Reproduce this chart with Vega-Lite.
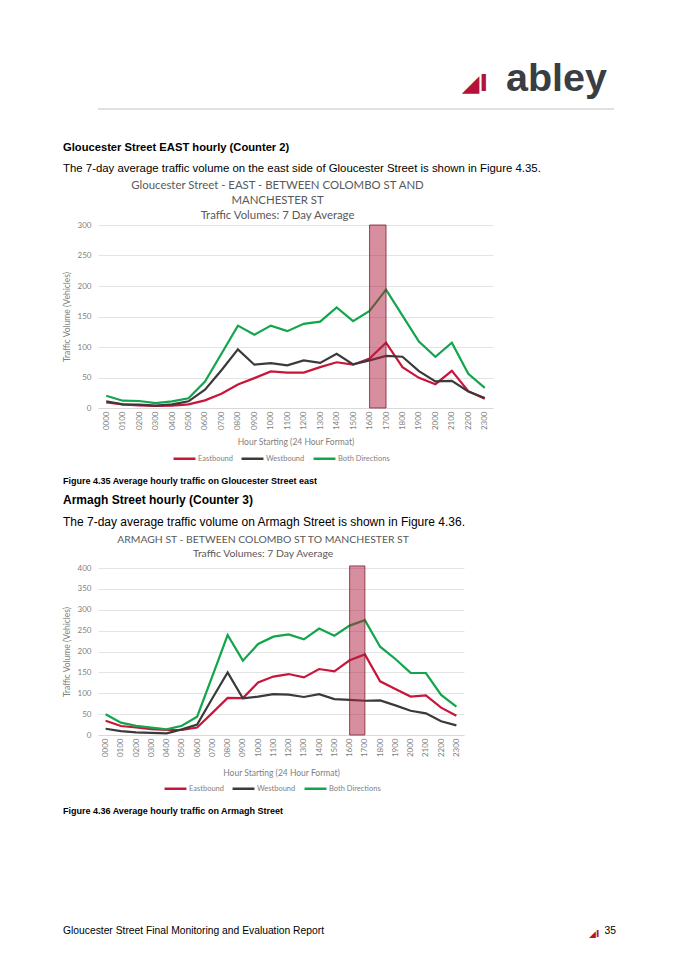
{
  "$schema": "https://vega.github.io/schema/vega-lite/v6.json",
  "background": "white",
  "padding": {"left": 62, "top": 58, "right": 0, "bottom": 0},
  "spacing": 0,
  "resolve": {"scale": {"color": "independent"}, "legend": {"color": "independent"}},
  "config": {
    "view": {"stroke": null},
    "font": "Liberation Sans",
    "title": {"anchor": "start", "frame": "group", "offset": 0, "color": "#000000", "font": "Liberation Sans", "fontWeight": "bold", "subtitleFont": "Liberation Sans", "subtitleColor": "#000000", "subtitleFontWeight": "normal"}
  },
  "datasets": {
    "glo": [
      {"h":0,"d":"Eastbound","v":9},{"h":1,"d":"Eastbound","v":6},{"h":2,"d":"Eastbound","v":4.4},{"h":3,"d":"Eastbound","v":3.3},{"h":4,"d":"Eastbound","v":4},{"h":5,"d":"Eastbound","v":6},{"h":6,"d":"Eastbound","v":12.5},{"h":7,"d":"Eastbound","v":23.5},{"h":8,"d":"Eastbound","v":38.5},{"h":9,"d":"Eastbound","v":49},{"h":10,"d":"Eastbound","v":60},{"h":11,"d":"Eastbound","v":58},{"h":12,"d":"Eastbound","v":58},{"h":13,"d":"Eastbound","v":67},{"h":14,"d":"Eastbound","v":75},{"h":15,"d":"Eastbound","v":71},{"h":16,"d":"Eastbound","v":81},{"h":17,"d":"Eastbound","v":107},{"h":18,"d":"Eastbound","v":67},{"h":19,"d":"Eastbound","v":49.5},{"h":20,"d":"Eastbound","v":39},{"h":21,"d":"Eastbound","v":61},{"h":22,"d":"Eastbound","v":27.5},{"h":23,"d":"Eastbound","v":15},
      {"h":0,"d":"Westbound","v":11},{"h":1,"d":"Westbound","v":6},{"h":2,"d":"Westbound","v":5.5},{"h":3,"d":"Westbound","v":4},{"h":4,"d":"Westbound","v":6},{"h":5,"d":"Westbound","v":11},{"h":6,"d":"Westbound","v":30},{"h":7,"d":"Westbound","v":62},{"h":8,"d":"Westbound","v":96},{"h":9,"d":"Westbound","v":71},{"h":10,"d":"Westbound","v":73.5},{"h":11,"d":"Westbound","v":70},{"h":12,"d":"Westbound","v":78},{"h":13,"d":"Westbound","v":74},{"h":14,"d":"Westbound","v":89},{"h":15,"d":"Westbound","v":71.5},{"h":16,"d":"Westbound","v":78},{"h":17,"d":"Westbound","v":85.5},{"h":18,"d":"Westbound","v":84},{"h":19,"d":"Westbound","v":60.5},{"h":20,"d":"Westbound","v":43.5},{"h":21,"d":"Westbound","v":44.5},{"h":22,"d":"Westbound","v":27},{"h":23,"d":"Westbound","v":16.5},
      {"h":0,"d":"Both Directions","v":20},{"h":1,"d":"Both Directions","v":12},{"h":2,"d":"Both Directions","v":11.5},{"h":3,"d":"Both Directions","v":8},{"h":4,"d":"Both Directions","v":11},{"h":5,"d":"Both Directions","v":16},{"h":6,"d":"Both Directions","v":43.5},{"h":7,"d":"Both Directions","v":89},{"h":8,"d":"Both Directions","v":135},{"h":9,"d":"Both Directions","v":120},{"h":10,"d":"Both Directions","v":135},{"h":11,"d":"Both Directions","v":126},{"h":12,"d":"Both Directions","v":138},{"h":13,"d":"Both Directions","v":141.5},{"h":14,"d":"Both Directions","v":165},{"h":15,"d":"Both Directions","v":142.5},{"h":16,"d":"Both Directions","v":159},{"h":17,"d":"Both Directions","v":194},{"h":18,"d":"Both Directions","v":151.5},{"h":19,"d":"Both Directions","v":109},{"h":20,"d":"Both Directions","v":84},{"h":21,"d":"Both Directions","v":107},{"h":22,"d":"Both Directions","v":56},{"h":23,"d":"Both Directions","v":33}
    ],
    "arm": [
      {"h":0,"d":"Eastbound","v":34},{"h":1,"d":"Eastbound","v":21.5},{"h":2,"d":"Eastbound","v":18},{"h":3,"d":"Eastbound","v":14},{"h":4,"d":"Eastbound","v":12},{"h":5,"d":"Eastbound","v":12},{"h":6,"d":"Eastbound","v":18},{"h":7,"d":"Eastbound","v":53},{"h":8,"d":"Eastbound","v":89},{"h":9,"d":"Eastbound","v":88.5},{"h":10,"d":"Eastbound","v":126},{"h":11,"d":"Eastbound","v":140},{"h":12,"d":"Eastbound","v":146},{"h":13,"d":"Eastbound","v":138},{"h":14,"d":"Eastbound","v":158},{"h":15,"d":"Eastbound","v":152.5},{"h":16,"d":"Eastbound","v":179},{"h":17,"d":"Eastbound","v":193},{"h":18,"d":"Eastbound","v":128.5},{"h":19,"d":"Eastbound","v":110},{"h":20,"d":"Eastbound","v":92},{"h":21,"d":"Eastbound","v":95},{"h":22,"d":"Eastbound","v":65.5},{"h":23,"d":"Eastbound","v":46},
      {"h":0,"d":"Westbound","v":15},{"h":1,"d":"Westbound","v":9.5},{"h":2,"d":"Westbound","v":6.5},{"h":3,"d":"Westbound","v":5},{"h":4,"d":"Westbound","v":4},{"h":5,"d":"Westbound","v":13.5},{"h":6,"d":"Westbound","v":25},{"h":7,"d":"Westbound","v":88},{"h":8,"d":"Westbound","v":150},{"h":9,"d":"Westbound","v":88},{"h":10,"d":"Westbound","v":92},{"h":11,"d":"Westbound","v":98},{"h":12,"d":"Westbound","v":96.5},{"h":13,"d":"Westbound","v":91},{"h":14,"d":"Westbound","v":98},{"h":15,"d":"Westbound","v":86},{"h":16,"d":"Westbound","v":84},{"h":17,"d":"Westbound","v":82},{"h":18,"d":"Westbound","v":83},{"h":19,"d":"Westbound","v":71},{"h":20,"d":"Westbound","v":58},{"h":21,"d":"Westbound","v":52},{"h":22,"d":"Westbound","v":33},{"h":23,"d":"Westbound","v":23},
      {"h":0,"d":"Both Directions","v":49.5},{"h":1,"d":"Both Directions","v":29.5},{"h":2,"d":"Both Directions","v":22},{"h":3,"d":"Both Directions","v":17.5},{"h":4,"d":"Both Directions","v":13.5},{"h":5,"d":"Both Directions","v":22},{"h":6,"d":"Both Directions","v":44},{"h":7,"d":"Both Directions","v":141},{"h":8,"d":"Both Directions","v":239.5},{"h":9,"d":"Both Directions","v":178},{"h":10,"d":"Both Directions","v":218},{"h":11,"d":"Both Directions","v":235.5},{"h":12,"d":"Both Directions","v":241},{"h":13,"d":"Both Directions","v":229},{"h":14,"d":"Both Directions","v":255},{"h":15,"d":"Both Directions","v":238},{"h":16,"d":"Both Directions","v":262},{"h":17,"d":"Both Directions","v":275},{"h":18,"d":"Both Directions","v":211.5},{"h":19,"d":"Both Directions","v":182},{"h":20,"d":"Both Directions","v":149},{"h":21,"d":"Both Directions","v":148.5},{"h":22,"d":"Both Directions","v":96},{"h":23,"d":"Both Directions","v":68}
    ]
  },
  "vconcat": [
    {
      "spacing": 0,
      "hconcat": [
        {"width": 406, "height": 0.1, "data": {"values": []}, "mark": "point", "encoding": {},
         "title": {"text": "◢I", "anchor": "end", "font": "DejaVu Sans", "fontSize": 23, "color": "#b5123a", "offset": 3.2, "dx": -16}},
        {"width": 110, "height": 0.1, "data": {"values": []}, "mark": "point", "encoding": {},
         "title": {"text": "abley", "anchor": "start", "fontSize": 39.5, "color": "#3a3d41", "offset": 0, "dx": 2}}
      ]
    },
    {"width": 1, "height": 7.5, "data": {"values": []}, "mark": "point", "encoding": {}},
    {"width": 516, "height": 0.1, "data": {"values": [{"k": 1}]}, "mark": {"type": "rule", "color": "#c4c4c4", "strokeWidth": 1, "xOffset": 0, "x2Offset": -35},
     "encoding": {"y": {"datum": 1, "type": "quantitative", "scale": {"domain": [0, 1]}, "axis": null}}},
    {"width": 1, "height": 30.1, "data": {"values": []}, "mark": "point", "encoding": {}},
    {"width": 516, "height": 0.1, "data": {"values": []}, "mark": "point", "encoding": {},
     "title": {"text": "Gloucester Street EAST hourly (Counter 2)", "subtitle": "The 7-day average traffic volume on the east side of Gloucester Street is shown in Figure 4.35.", "fontSize": 11.2, "subtitleFontSize": 11.4, "subtitlePadding": 9.8, "dx": -35}},
    {"width": 1, "height": 0.6, "data": {"values": []}, "mark": "point", "encoding": {}},
    {
      "width": 395, "height": 183,
      "title": {"text": ["Gloucester Street - EAST - BETWEEN COLOMBO ST AND", "MANCHESTER ST", "Traffic Volumes: 7 Day Average"], "anchor": "middle", "frame": "bounds", "font": "Lato", "fontSize": 11.4, "fontWeight": "normal", "color": "#595959", "lineHeight": 15, "offset": -0.5},
      "encoding": {
        "x": {"field": "h", "type": "quantitative", "scale": {"domain": [-0.5, 23.5], "nice": false, "zero": false},
              "axis": {"values": [0,1,2,3,4,5,6,7,8,9,10,11,12,13,14,15,16,17,18,19,20,21,22,23], "labelOverlap": false, "labelExpr": "datum.value < 10 ? '0' + datum.value + '00' : datum.value + '00'", "labelAngle": 270, "labelFont": "Lato", "labelFontSize": 8, "labelColor": "#7f7f7f", "labelPadding": 3, "ticks": false, "grid": false, "domainColor": "#d9d9d9", "title": "Hour Starting (24 Hour Format)", "titleFont": "Lato", "titleFontSize": 8.5, "titleFontWeight": "normal", "titleColor": "#7f7f7f", "titlePadding": 8}},
        "y": {"field": "v", "type": "quantitative", "scale": {"domain": [0, 300], "nice": false},
              "axis": {"values": [0,50,100,150,200,250,300], "labelOverlap": false, "labelFont": "Lato", "labelFontSize": 8, "labelColor": "#7f7f7f", "labelPadding": 7, "ticks": false, "domain": false, "gridColor": "#e3e3e3", "gridWidth": 1.2, "title": "Traffic Volume (Vehicles)", "titleFont": "Lato", "titleFontSize": 8.5, "titleFontWeight": "normal", "titleColor": "#7f7f7f", "titlePadding": 6}}
      },
      "layer": [
        {
          "data": {"name": "glo"},
          "mark": {"type": "line", "strokeWidth": 2.2},
          "encoding": {
            "color": {"field": "d", "type": "nominal", "sort": null,
                      "scale": {"domain": ["Eastbound", "Westbound", "Both Directions"], "range": ["#c8163b", "#3a3a3a", "#12a54b"]},
                      "legend": {"orient": "none", "legendX": 74, "legendY": 221, "direction": "horizontal", "title": null, "symbolType": "stroke", "symbolSize": 480, "symbolStrokeWidth": 2.5, "labelFont": "Lato", "labelFontSize": 7.5, "labelColor": "#7f7f7f", "columnPadding": 3, "labelOffset": 1}}
          }
        },
        {
          "data": {"values": [{"h": 16, "h2": 17, "v": 0, "v2": 300}]},
          "mark": {"type": "rect", "fill": "#b0203f", "fillOpacity": 0.5, "stroke": "#7a2030", "strokeOpacity": 0.8, "strokeWidth": 1},
          "encoding": {"x2": {"field": "h2"}, "y2": {"field": "v2"}}
        }
      ]
    },
    {"width": 1, "height": 13, "data": {"values": []}, "mark": "point", "encoding": {}},
    {"width": 516, "height": 0.1, "data": {"values": []}, "mark": "point", "encoding": {},
     "title": {"text": "Figure 4.35 Average hourly traffic on Gloucester Street east", "fontSize": 9, "dx": -35}},
    {"width": 1, "height": 2.4, "data": {"values": []}, "mark": "point", "encoding": {}},
    {"width": 516, "height": 0.1, "data": {"values": []}, "mark": "point", "encoding": {},
     "title": {"text": "Armagh Street hourly (Counter 3)", "subtitle": "The 7-day average traffic volume on Armagh Street is shown in Figure 4.36.", "fontSize": 12, "subtitleFontSize": 12, "subtitlePadding": 10, "dx": -35}},
    {
      "width": 366, "height": 167,
      "title": {"text": ["ARMAGH ST - BETWEEN COLOMBO ST TO MANCHESTER ST", "Traffic Volumes: 7 Day Average"], "anchor": "middle", "frame": "bounds", "font": "Lato", "fontSize": 10.4, "fontWeight": "normal", "color": "#595959", "lineHeight": 14, "offset": 4.8},
      "encoding": {
        "x": {"field": "h", "type": "quantitative", "scale": {"domain": [-0.5, 23.5], "nice": false, "zero": false},
              "axis": {"values": [0,1,2,3,4,5,6,7,8,9,10,11,12,13,14,15,16,17,18,19,20,21,22,23], "labelOverlap": false, "labelExpr": "datum.value < 10 ? '0' + datum.value + '00' : datum.value + '00'", "labelAngle": 270, "labelFont": "Lato", "labelFontSize": 8, "labelColor": "#7f7f7f", "labelPadding": 3, "ticks": false, "grid": false, "domainColor": "#d9d9d9", "title": "Hour Starting (24 Hour Format)", "titleFont": "Lato", "titleFontSize": 8.5, "titleFontWeight": "normal", "titleColor": "#7f7f7f", "titlePadding": 12}},
        "y": {"field": "v", "type": "quantitative", "scale": {"domain": [0, 400], "nice": false},
              "axis": {"values": [0,50,100,150,200,250,300,350,400], "labelOverlap": false, "labelFont": "Lato", "labelFontSize": 8, "labelColor": "#7f7f7f", "labelPadding": 7, "ticks": false, "domain": false, "gridColor": "#e3e3e3", "gridWidth": 1.2, "title": "Traffic Volume (Vehicles)", "titleFont": "Lato", "titleFontSize": 8.5, "titleFontWeight": "normal", "titleColor": "#7f7f7f", "titlePadding": 6}}
      },
      "layer": [
        {
          "data": {"name": "arm"},
          "mark": {"type": "line", "strokeWidth": 2.2},
          "encoding": {
            "color": {"field": "d", "type": "nominal", "sort": null,
                      "scale": {"domain": ["Eastbound", "Westbound", "Both Directions"], "range": ["#c8163b", "#3a3a3a", "#12a54b"]},
                      "legend": {"orient": "none", "legendX": 65, "legendY": 208, "direction": "horizontal", "title": null, "symbolType": "stroke", "symbolSize": 480, "symbolStrokeWidth": 2.5, "labelFont": "Lato", "labelFontSize": 7.5, "labelColor": "#7f7f7f", "columnPadding": 3, "labelOffset": 1}}
          }
        },
        {
          "data": {"values": [{"h": 16, "h2": 17, "v": 0, "v2": 405}]},
          "mark": {"type": "rect", "fill": "#b0203f", "fillOpacity": 0.5, "stroke": "#7a2030", "strokeOpacity": 0.8, "strokeWidth": 1},
          "encoding": {"x2": {"field": "h2"}, "y2": {"field": "v2"}}
        }
      ]
    },
    {"width": 1, "height": 13, "data": {"values": []}, "mark": "point", "encoding": {}},
    {"width": 516, "height": 0.1, "data": {"values": []}, "mark": "point", "encoding": {},
     "title": {"text": "Figure 4.36 Average hourly traffic on Armagh Street", "fontSize": 9, "dx": -35}},
    {"width": 1, "height": 103.5, "data": {"values": []}, "mark": "point", "encoding": {}},
    {
      "spacing": 0,
      "hconcat": [
        {"width": 489, "height": 0.1, "data": {"values": []}, "mark": "point", "encoding": {},
         "title": {"text": "Gloucester Street Final Monitoring and Evaluation Report", "fontSize": 10.3, "fontWeight": "normal", "dx": -35}},
        {"width": 11, "height": 0.1, "data": {"values": []}, "mark": "point", "encoding": {},
         "title": {"text": "◢I", "font": "DejaVu Sans", "fontSize": 9, "color": "#b5123a", "offset": 1, "dx": 2}},
        {"width": 16, "height": 0.1, "data": {"values": []}, "mark": "point", "encoding": {},
         "title": {"text": "35", "anchor": "end", "fontSize": 10.3, "fontWeight": "normal"}}
      ]
    }
  ]
}
